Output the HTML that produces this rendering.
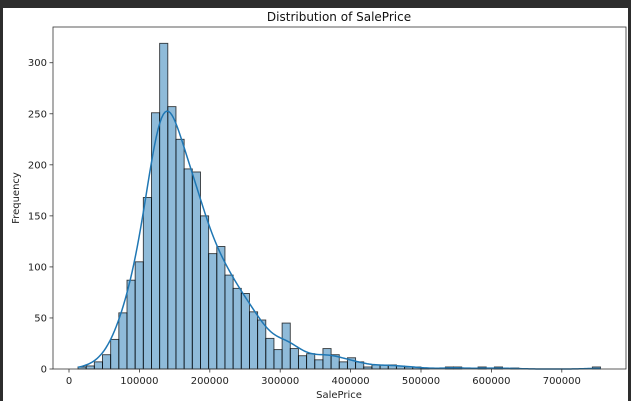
<!DOCTYPE html>
<html><head><meta charset="utf-8"><style>
html,body{margin:0;padding:0;background:#fff;}
body{width:631px;height:401px;overflow:hidden;position:relative;font-family:"Liberation Sans","DejaVu Sans",sans-serif;}
</style></head><body>
<div style="position:absolute;left:0;top:0;width:631px;height:8px;background:#2d2d2d"></div>
<div style="position:absolute;left:0;top:0;width:3px;height:401px;background:#2d2d2d"></div>
<div style="position:absolute;right:0;top:0;width:3px;height:401px;background:#2d2d2d"></div>
<svg id="chart" width="631" height="401" style="position:absolute;left:0;top:0" font-family="DejaVu Sans, Liberation Sans, sans-serif"></svg>
<script>
const counts = [2,3,7,14,29,55,87,105,168,251,319,257,225,196,193,150,113,120,92,79,74,56,48,30,19,45,20,13,15,9,20,14,7,11,7,2,4,4,4,3,2,2,1,0,0,2,2,0,0,2,0,2,0,1,0,0,0,0,0,0,0,0,0,2];
const binStart = 12789;
const binEnd = 755000;
const xTicks = [0,100000,200000,300000,400000,500000,600000,700000];
const yTicks = [0,50,100,150,200,250,300];

const svg = document.getElementById('chart');
const NS = 'http://www.w3.org/2000/svg';
const L=53, R=626, T=27, B=369;
const yMax=335;
const X = v => 69 + v*70.4/100000;
const Y = v => B - v*(B-T)/yMax;
function mk(tag, attrs){const e=document.createElementNS(NS,tag);for(const k in attrs)e.setAttribute(k,attrs[k]);svg.appendChild(e);return e;}

const bw = (binEnd-binStart)/counts.length;
counts.forEach((c,i)=>{
  if(c<=0) return;
  const x0=X(binStart+i*bw), x1=X(binStart+(i+1)*bw);
  const r=mk('rect',{x:x0,y:Y(c),width:x1-x0,height:Y(0)-Y(c),fill:'rgba(31,119,180,0.5)',stroke:'rgba(0,0,0,0.75)','stroke-width':0.9});
  
  
});

let n=0,mean=0;counts.forEach((c,i)=>{n+=c;mean+=c*(binStart+(i+0.5)*bw);});mean/=n;
let vr=0;counts.forEach((c,i)=>{const d=binStart+(i+0.5)*bw-mean;vr+=c*d*d;});
const sd=Math.sqrt(vr/(n-1));
const h=1.12*sd*Math.pow(n,-0.2);
let pts=[];
for(let k=0;k<=300;k++){
  const xv=binStart+(binEnd-binStart)*k/300;
  let s=0;counts.forEach((c,i)=>{const z=(xv-(binStart+(i+0.5)*bw))/h;s+=c*Math.exp(-0.5*z*z);});
  const dens=s/(n*h*Math.sqrt(2*Math.PI));
  pts.push(X(xv).toFixed(2)+','+Y(dens*n*bw).toFixed(2));
}
const kde=mk('polyline',{points:pts.join(' '),fill:'none',stroke:'#1f77b4','stroke-width':1.5});



const frame=mk('rect',{x:L,y:T,width:R-L,height:B-T,fill:'none',stroke:'#333','stroke-width':0.8});



xTicks.forEach(v=>{
  mk('line',{x1:X(v),x2:X(v),y1:B,y2:B+3.5,stroke:'#333','stroke-width':0.8});
  const t=mk('text',{x:X(v),y:B+15,'text-anchor':'middle','font-size':10,fill:'#222'});
  t.textContent=v;
  
  
});
yTicks.forEach(v=>{
  mk('line',{x1:L-3.5,x2:L,y1:Y(v),y2:Y(v),stroke:'#333','stroke-width':0.8});
  const t=mk('text',{x:L-6,y:Y(v)+3.5,'text-anchor':'end','font-size':10,fill:'#222'});
  t.textContent=v;
  
  
});
const title=mk('text',{x:339,y:21,'text-anchor':'middle','font-size':12,fill:'#111'});
title.textContent='Distribution of SalePrice';


const xl=mk('text',{x:339,y:398,'text-anchor':'middle','font-size':10,fill:'#222'});
xl.textContent='SalePrice';


const yl=mk('text',{x:19,y:198,'text-anchor':'middle','font-size':10,fill:'#222',transform:'rotate(-90 19 198)'});
yl.textContent='Frequency';


</script>
</body></html>
